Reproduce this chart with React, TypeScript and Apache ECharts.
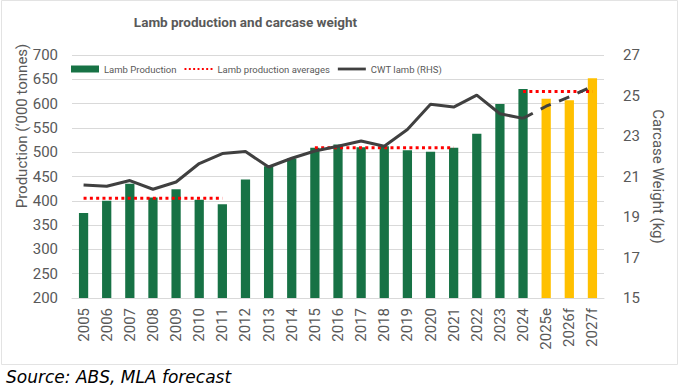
import React, { useEffect, useRef } from "react";
import * as echarts from "echarts";

const categories = [
  "2005", "2006", "2007", "2008", "2009", "2010", "2011", "2012", "2013", "2014",
  "2015", "2016", "2017", "2018", "2019", "2020", "2021", "2022", "2023", "2024",
  "2025e", "2026f", "2027f",
];
const forecastCategories = ["2025e", "2026f", "2027f"];

// Lamb production ('000 tonnes)
const production = [
  375, 400, 435, 407, 424, 402, 393, 444, 471, 487,
  509, 516, 510, 512, 504, 501, 509, 538, 599, 630,
  610, 607, 652,
];

// Lamb production period averages ('000 tonnes)
const averages = [
  405, 405, 405, 405, 405, 405, 405, null, null, null,
  509, 509, 509, 509, 509, 509, 509, null, null, 625,
  625, 625, 625,
];

// CWT lamb (kg), actuals
const cwt = [
  20.58, 20.52, 20.8, 20.37, 20.73, 21.64, 22.13, 22.23, 21.47, 21.9,
  22.26, 22.49, 22.75, 22.49, 23.32, 24.57, 24.43, 25.02, 24.1, 23.87,
  null, null, null,
];

// CWT lamb (kg), forecast (dashed)
const cwtForecast = [
  null, null, null, null, null, null, null, null, null, null,
  null, null, null, null, null, null, null, null, null, 23.87,
  24.47, 24.93, 25.45,
];

const GREEN = "#177245";
const YELLOW = "#FFC000";
const RED = "#FF0000";
const DARK = "#404040";
const GREY_TEXT = "#595959";
const GRID = "#D9D9D9";
const FONT = "Roboto, 'Noto Sans', sans-serif";

const DOTTED_ICON =
  "path://M0,0h2v2h-2zM4.5,0h2v2h-2zM9,0h2v2h-2zM13.5,0h2v2h-2zM18,0h2v2h-2zM22.5,0h2v2h-2zM27,0h2v2h-2z";
const LINE_ICON = "path://M0,0h30v3h-30z";

export default function App() {
  const ref = useRef<HTMLDivElement>(null);

  useEffect(() => {
    if (!ref.current) return;
    const chart = echarts.init(ref.current, undefined, { renderer: "svg" });
    chart.setOption({
      animation: false,
      backgroundColor: "#ffffff",
      textStyle: { fontFamily: FONT },
      grid: { left: 72, top: 55, width: 532, height: 243, containLabel: false },
      legend: {
        left: 66,
        top: 59,
        itemWidth: 28,
        itemHeight: 7,
        itemGap: 8,
        textStyle: { fontSize: 9.5, color: GREY_TEXT, fontFamily: FONT },
        data: [
          { name: "Lamb Production", icon: "rect" },
          { name: "Lamb production averages", icon: DOTTED_ICON },
          { name: "CWT lamb (RHS)", icon: LINE_ICON },
        ],
      },
      xAxis: {
        type: "category",
        data: categories,
        boundaryGap: true,
        axisLine: { show: true, lineStyle: { color: GRID, width: 1 } },
        axisTick: { show: false },
        axisLabel: {
          rotate: 90,
          interval: 0,
          margin: 10,
          fontSize: 15,
          color: GREY_TEXT,
          fontFamily: FONT,
        },
      },
      yAxis: [
        {
          type: "value",
          min: 200,
          max: 700,
          interval: 50,
          axisLine: { show: false },
          axisTick: { show: false },
          splitLine: { show: true, lineStyle: { color: GRID, width: 1 } },
          axisLabel: { fontSize: 15, color: GREY_TEXT, margin: 14, fontFamily: FONT },
        },
        {
          type: "value",
          min: 15,
          max: 27,
          interval: 2,
          position: "right",
          axisLine: { show: false },
          axisTick: { show: false },
          splitLine: { show: false },
          axisLabel: { fontSize: 15, color: GREY_TEXT, margin: 19, fontFamily: FONT },
          name: "Carcase Weight (kg)",
          nameLocation: "middle",
          nameRotate: -90,
          nameGap: 44,
          nameTextStyle: { fontSize: 15, color: GREY_TEXT, fontFamily: FONT },
        },
      ],
      series: [
        {
          name: "Lamb Production",
          type: "bar",
          yAxisIndex: 0,
          barWidth: "40%",
          itemStyle: { color: GREEN },
          data: production.map((v, i) =>
            forecastCategories.includes(categories[i])
              ? { value: v, itemStyle: { color: YELLOW } }
              : v
          ),
          z: 1,
        },
        {
          name: "Lamb production averages",
          type: "line",
          yAxisIndex: 0,
          data: averages,
          symbol: "none",
          connectNulls: false,
          lineStyle: { color: RED, width: 3, type: [3, 3.3] },
          itemStyle: { color: RED },
          z: 3,
        },
        {
          name: "CWT lamb (RHS)",
          type: "line",
          yAxisIndex: 1,
          data: cwt,
          symbol: "none",
          connectNulls: false,
          lineStyle: { color: DARK, width: 3 },
          itemStyle: { color: DARK },
          z: 4,
        },
        {
          name: "CWT lamb forecast",
          type: "line",
          yAxisIndex: 1,
          data: cwtForecast,
          symbol: "none",
          connectNulls: false,
          lineStyle: { color: DARK, width: 3, type: [11, 9] },
          itemStyle: { color: DARK },
          z: 4,
        },
      ],
      graphic: [
        {
          type: "rect",
          shape: { x: 1.5, y: 0.5, width: 676, height: 364 },
          style: { fill: "none", stroke: "#E3E3E3", lineWidth: 1 },
          silent: true,
          z: -10,
        },
        {
          type: "text",
          x: 245.5,
          y: 22,
          style: {
            text: "Lamb production and carcase weight",
            fontSize: 13.5,
            fontWeight: "bold",
            fill: GREY_TEXT,
            fontFamily: FONT,
            align: "center",
            verticalAlign: "middle",
          },
        },
        {
          type: "text",
          x: 22,
          y: 126,
          rotation: Math.PI / 2,
          style: {
            text: "Production (\u2018000 tonnes)",
            fontSize: 15,
            fill: GREY_TEXT,
            fontFamily: FONT,
            align: "center",
            verticalAlign: "middle",
          },
        },
        {
          type: "text",
          x: 6,
          y: 377,
          style: {
            text: "Source: ABS, MLA forecast",
            fontSize: 17,
            fontStyle: "italic",
            fill: "#000000",
            fontFamily: "'DejaVu Sans', sans-serif",
            align: "left",
            verticalAlign: "middle",
          },
        },
      ],
    });
    return () => chart.dispose();
  }, []);

  return (
    <div
      ref={ref}
      style={{ position: "fixed", left: 0, top: 0, width: 679, height: 390 }}
    />
  );
}
